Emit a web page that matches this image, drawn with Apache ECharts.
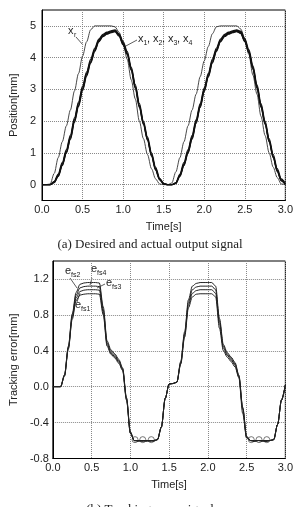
<!DOCTYPE html>
<html>
<head>
<meta charset="utf-8">
<script src="https://cdn.jsdelivr.net/npm/echarts@6/dist/echarts.min.js"></script>
<style>
  * { margin: 0; padding: 0; }
  html, body { background: #fff; }
  #chart-container { width: 296px; height: 507px; }
</style>
</head>
<body>
<div id="chart-container"></div>
<script>
  // sample times [s], shared by both panels
  var time = [0.00, 0.05, 0.10, 0.15, 0.20, 0.25, 0.30, 0.35, 0.40, 0.45,
    0.50, 0.55, 0.60, 0.65, 0.70, 0.75, 0.80, 0.85, 0.90, 0.95,
    1.00, 1.05, 1.10, 1.15, 1.20, 1.25, 1.30, 1.35, 1.40, 1.45,
    1.50, 1.55, 1.60, 1.65, 1.70, 1.75, 1.80, 1.85, 1.90, 1.95,
    2.00, 2.05, 2.10, 2.15, 2.20, 2.25, 2.30, 2.35, 2.40, 2.45,
    2.50, 2.55, 2.60, 2.65, 2.70, 2.75, 2.80, 2.85, 2.90, 2.95, 3.00]

  // (a) position [mm]
  var xr = [0, 0, 0.02, 0.35, 0.85, 1.35, 1.85, 2.35, 2.95, 3.5,
    4.05, 4.5, 4.88, 5, 5, 5, 5, 5, 4.97, 4.8,
    4.45, 3.95, 3.3, 2.7, 2.0, 1.45, 0.95, 0.5, 0.18, 0.02,
    0, 0, 0.05, 0.4, 0.85, 1.35, 1.85, 2.35, 2.85, 3.4,
    3.9, 4.35, 4.75, 4.97, 5, 5, 5, 5, 5, 4.9,
    4.6, 4.1, 3.45, 2.85, 2.15, 1.55, 1.0, 0.55, 0.22, 0.02, 0]
  var x1 = [0, 0, 0, 0.08, 0.3, 0.65, 1.05, 1.5, 2.05, 2.55,
    3.05, 3.5, 3.9, 4.25, 4.55, 4.7, 4.78, 4.82, 4.85, 4.72,
    4.45, 4.15, 3.65, 3.1, 2.5, 1.95, 1.45, 0.95, 0.5, 0.18,
    0.03, 0, 0, 0.05, 0.3, 0.65, 1.05, 1.5, 2.0, 2.5,
    3.0, 3.45, 3.9, 4.25, 4.55, 4.7, 4.78, 4.82, 4.85, 4.8,
    4.55, 4.2, 3.7, 3.1, 2.5, 1.95, 1.4, 0.9, 0.45, 0.15, 0.02]
  var x2 = [0, 0, 0, 0.1, 0.33, 0.7, 1.1, 1.56, 2.1, 2.6,
    3.1, 3.55, 3.95, 4.3, 4.58, 4.73, 4.8, 4.84, 4.87, 4.75,
    4.5, 4.2, 3.7, 3.15, 2.56, 2.0, 1.5, 1.0, 0.55, 0.2,
    0.04, 0, 0, 0.06, 0.33, 0.7, 1.1, 1.55, 2.05, 2.55,
    3.05, 3.5, 3.95, 4.3, 4.58, 4.73, 4.8, 4.84, 4.87, 4.83,
    4.6, 4.25, 3.75, 3.15, 2.55, 2.0, 1.45, 0.95, 0.5, 0.18, 0.03]
  var x3 = [0, 0, 0, 0.07, 0.28, 0.62, 1.02, 1.46, 2.0, 2.5,
    3.0, 3.46, 3.86, 4.22, 4.52, 4.68, 4.76, 4.8, 4.83, 4.7,
    4.42, 4.12, 3.62, 3.06, 2.46, 1.92, 1.42, 0.92, 0.48, 0.16,
    0.02, 0, 0, 0.04, 0.28, 0.62, 1.02, 1.46, 1.96, 2.46,
    2.96, 3.42, 3.86, 4.22, 4.52, 4.68, 4.76, 4.8, 4.83, 4.78,
    4.52, 4.17, 3.66, 3.06, 2.46, 1.92, 1.37, 0.87, 0.43, 0.13, 0.01]
  var x4 = [0, 0, 0, 0.06, 0.26, 0.6, 0.99, 1.43, 1.96, 2.46,
    2.96, 3.42, 3.83, 4.19, 4.5, 4.66, 4.74, 4.79, 4.82, 4.68,
    4.4, 4.1, 3.6, 3.03, 2.43, 1.9, 1.4, 0.9, 0.46, 0.15,
    0.02, 0, 0, 0.04, 0.26, 0.6, 0.99, 1.43, 1.93, 2.43,
    2.93, 3.39, 3.83, 4.19, 4.5, 4.66, 4.74, 4.79, 4.82, 4.76,
    4.5, 4.15, 3.63, 3.03, 2.43, 1.9, 1.35, 0.85, 0.41, 0.12, 0.01]

  // (b) tracking error [mm]
  var efs1 = [0, 0, 0, 0.12, 0.42, 0.75, 0.96, 1.02, 1.03, 1.035,
    1.035, 1.035, 1.03, 0.8, 0.45, 0.36, 0.32, 0.26, 0.18, -0.15,
    -0.52, -0.6, -0.6, -0.6, -0.6, -0.6, -0.6, -0.59, -0.45, -0.13,
    0.03, 0.035, 0.05, 0.25, 0.55, 0.88, 1.0, 1.03, 1.035, 1.035,
    1.035, 1.035, 1.0, 0.65, 0.4, 0.33, 0.28, 0.22, 0.1, -0.3,
    -0.57, -0.6, -0.6, -0.6, -0.6, -0.6, -0.6, -0.59, -0.42, -0.15, 0.02]
  var efs2 = [0, 0, 0, 0.12, 0.43, 0.77, 0.99, 1.06, 1.075, 1.08,
    1.08, 1.08, 1.075, 0.83, 0.47, 0.375, 0.335, 0.275, 0.19, -0.14,
    -0.52, -0.6, -0.6, -0.61, -0.6, -0.6, -0.61, -0.59, -0.45, -0.13,
    0.03, 0.035, 0.05, 0.26, 0.57, 0.91, 1.04, 1.07, 1.08, 1.08,
    1.08, 1.08, 1.04, 0.7, 0.43, 0.35, 0.3, 0.24, 0.11, -0.25,
    -0.57, -0.6, -0.61, -0.6, -0.6, -0.61, -0.6, -0.59, -0.42, -0.15, 0.02]
  var efs3 = [0, 0, 0, 0.13, 0.44, 0.79, 1.02, 1.1, 1.115, 1.12,
    1.12, 1.12, 1.115, 0.86, 0.49, 0.39, 0.35, 0.29, 0.2, -0.13,
    -0.51, -0.6, -0.61, -0.6, -0.6, -0.61, -0.6, -0.59, -0.45, -0.13,
    0.03, 0.035, 0.05, 0.27, 0.59, 0.94, 1.08, 1.11, 1.12, 1.12,
    1.12, 1.12, 1.08, 0.73, 0.45, 0.365, 0.315, 0.255, 0.12, -0.24,
    -0.56, -0.6, -0.61, -0.6, -0.6, -0.61, -0.6, -0.59, -0.42, -0.15, 0.02]
  var efs4 = [0, 0, 0, 0.13, 0.45, 0.81, 1.05, 1.14, 1.155, 1.16,
    1.16, 1.16, 1.155, 0.89, 0.51, 0.41, 0.365, 0.305, 0.21, -0.12,
    -0.5, -0.6, -0.6, -0.6, -0.61, -0.6, -0.6, -0.59, -0.45, -0.13,
    0.03, 0.035, 0.05, 0.28, 0.61, 0.97, 1.12, 1.15, 1.16, 1.16,
    1.16, 1.16, 1.12, 0.76, 0.47, 0.38, 0.33, 0.27, 0.13, -0.23,
    -0.55, -0.6, -0.6, -0.6, -0.61, -0.6, -0.6, -0.59, -0.42, -0.15, 0.02]
  // small ripple loops in the troughs
  var rippleTime = [1.06, 1.16, 1.27, 2.56, 2.66, 2.76]
  var rippleVal = [-0.59, -0.59, -0.59, -0.59, -0.59, -0.59]

  var posTicks = [0, 1, 2, 3, 4, 5]
  var errTicks = [-0.8, -0.4, 0.0, 0.4, 0.8, 1.2]

  function pairs(ys) {
    return time.map(function (t, i) { return [t, ys[i]] })
  }

  var font = 'Liberation Sans, Arial, sans-serif'
  var serif = 'Liberation Serif, Times New Roman, serif'

  function xAxisCfg(gi) {
    return {
      type: 'value', gridIndex: gi, min: 0, max: 3, interval: 0.5,
      name: 'Time[s]', nameLocation: 'middle', nameGap: 21,
      nameTextStyle: { fontFamily: font, fontSize: 11, color: '#222' },
      axisLine: { show: true, onZero: false, lineStyle: { color: '#000', width: 1 } },
      axisTick: { show: false },
      axisLabel: { fontFamily: font, fontSize: 11, color: '#222', margin: 4,
        formatter: function (v) { return v.toFixed(1) } },
      splitLine: { show: true, lineStyle: { color: '#888', type: 'dotted', width: 1 } }
    }
  }

  var myChart = echarts.init(document.getElementById('chart-container'), null, { renderer: 'canvas' })

  function thick(name, ys) {
    return { name: name, type: 'line', xAxisIndex: 0, yAxisIndex: 0, data: pairs(ys),
      showSymbol: false, smooth: 0.3, smoothMonotone: 'x',
      lineStyle: { color: '#111', width: 1.3 } }
  }
  function err(name, ys) {
    return { name: name, type: 'line', xAxisIndex: 1, yAxisIndex: 1, data: pairs(ys),
      showSymbol: false, smooth: 0.3, smoothMonotone: 'x',
      lineStyle: { color: '#222', width: 1 } }
  }

  var txt = function (x, y, s, size, fam) {
    return { type: 'text', x: x, y: y, style: { text: s, fontFamily: fam || font, fontSize: size,
      fill: '#222', textVerticalAlign: 'middle' } }
  }
  var seg = function (x1, y1, x2, y2) {
    return { type: 'line', shape: { x1: x1, y1: y1, x2: x2, y2: y2 },
      style: { stroke: '#333', lineWidth: 0.8 } }
  }

  var option = {
    animation: false,
    grid: [
      { left: 37, right: 8, top: 10, height: 190.5, show: true, borderColor: '#000', borderWidth: 1 },
      { left: 46, right: 5, top: 261, height: 197.5, show: true, borderColor: '#000', borderWidth: 1 }
    ],
    xAxis: [xAxisCfg(0), xAxisCfg(1)],
    yAxis: [
      {
        type: 'value', gridIndex: 0, min: -0.5, max: 5.5,
        name: 'Position[mm]', nameLocation: 'middle', nameGap: 20,
        nameTextStyle: { fontFamily: font, fontSize: 11, color: '#222' },
        axisLine: { show: true, onZero: false, lineStyle: { color: '#000' } },
        axisTick: { show: false, customValues: posTicks },
        axisLabel: { fontFamily: font, fontSize: 11, color: '#222', margin: 6, customValues: posTicks },
        splitLine: { show: true, lineStyle: { color: '#888', type: 'dotted', width: 1 } }
      },
      {
        type: 'value', gridIndex: 1, min: -0.8, max: 1.4,
        name: 'Tracking error[mm]', nameLocation: 'middle', nameGap: 30,
        nameTextStyle: { fontFamily: font, fontSize: 11, color: '#222' },
        axisLine: { show: true, onZero: false, lineStyle: { color: '#000' } },
        axisTick: { show: false, customValues: errTicks },
        axisLabel: { fontFamily: font, fontSize: 11, color: '#222', margin: 4, customValues: errTicks,
          formatter: function (v) { return v.toFixed(1) } },
        splitLine: { show: true, lineStyle: { color: '#888', type: 'dotted', width: 1 } }
      }
    ],
    series: [
      { name: 'xr', type: 'line', xAxisIndex: 0, yAxisIndex: 0, data: pairs(xr),
        showSymbol: false, smooth: 0.3, smoothMonotone: 'x',
        lineStyle: { color: '#333', width: 0.9 } },
      thick('x1', x1), thick('x2', x2), thick('x3', x3), thick('x4', x4),
      err('efs1', efs1), err('efs2', efs2), err('efs3', efs3), err('efs4', efs4),
      { name: 'ripple', type: 'scatter', xAxisIndex: 1, yAxisIndex: 1,
        data: rippleTime.map(function (t, i) { return [t, rippleVal[i]] }),
        symbol: 'circle', symbolSize: 6,
        itemStyle: { color: 'rgba(255,255,255,0)', borderColor: '#555', borderWidth: 1 } }
    ],
    graphic: [
      // panel (a) labels
      txt(68, 31, 'x', 11), txt(74, 35, 'r', 7), seg(76, 37, 83, 45),
      txt(138, 39, 'x', 11), txt(143.5, 43, '1', 7), txt(147, 39, ', x', 11), txt(158.5, 43, '2', 7),
      txt(162, 39, ', x', 11), txt(173.5, 43, '3', 7), txt(177, 39, ', x', 11), txt(188.5, 43, '4', 7),
      seg(124, 47, 137, 40),
      // panel (b) labels
      txt(65, 271, 'e', 11), txt(71, 275, 'fs2', 7), seg(70, 278, 77, 288),
      txt(91, 269, 'e', 11), txt(97, 273, 'fs4', 7), seg(92, 278, 90, 285),
      txt(106, 283, 'e', 11), txt(112, 287, 'fs3', 7), seg(105, 284, 97, 288),
      txt(75, 305, 'e', 11), txt(81, 309, 'fs1', 7), seg(77, 302, 80, 293),
      // captions
      { type: 'text', x: 150, y: 245, style: { text: '(a) Desired and actual output signal',
        fontFamily: serif, fontSize: 13, fill: '#222', textAlign: 'center', textVerticalAlign: 'middle' } },
      { type: 'text', x: 150, y: 510, style: { text: '(b) Tracking error signal',
        fontFamily: serif, fontSize: 13, fill: '#222', textAlign: 'center', textVerticalAlign: 'middle' } }
    ]
  }

  myChart.setOption(option)
  window.addEventListener('resize', myChart.resize)
</script>
</body>
</html>
